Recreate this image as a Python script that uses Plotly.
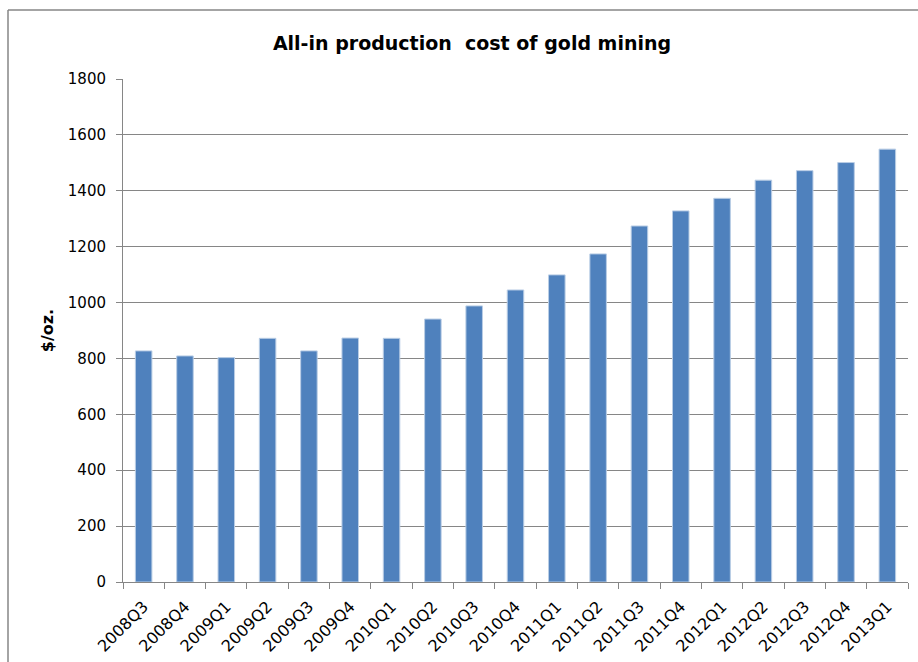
import plotly.graph_objects as go

quarters = ["2008Q3", "2008Q4", "2009Q1", "2009Q2", "2009Q3", "2009Q4", "2010Q1",
            "2010Q2", "2010Q3", "2010Q4", "2011Q1", "2011Q2", "2011Q3", "2011Q4",
            "2012Q1", "2012Q2", "2012Q3", "2012Q4", "2013Q1"]
cost = [827, 809, 803, 872, 827, 873, 872, 941, 988, 1045, 1099, 1174, 1274, 1328,
        1373, 1438, 1472, 1501, 1549]
y_ticks = [0, 200, 400, 600, 800, 1000, 1200, 1400, 1600, 1800]

W, H = 918, 662
L, R, T, B = 123, 10, 79, 80
pw, ph = W - L - R, H - T - B

fig = go.Figure(go.Bar(
    x=quarters, y=cost,
    marker=dict(color="#4F81BD", line=dict(color="#B9CDE5", width=1)),
))

font_fam = "DejaVu Sans, Verdana, sans-serif"

fig.update_layout(
    width=W, height=H,
    margin=dict(l=L, r=R, t=T, b=B, autoexpand=False),
    paper_bgcolor="white", plot_bgcolor="white",
    bargap=0.6,
    showlegend=False,
    title=dict(text="<b>All-in production  cost of gold mining</b>",
               x=(472 - L) / pw, xref="paper", xanchor="center",
               y=1 - 43 / H, yanchor="middle",
               font=dict(family=font_fam, size=19, color="black")),
    font=dict(family=font_fam, size=15, color="black"),
)

fig.update_xaxes(
    type="category", tickson="boundaries", automargin=False,
    tickangle=-45, ticks="outside", ticklen=6, tickcolor="#868686",
    showline=True, linecolor="#868686", linewidth=1, mirror=False,
    showgrid=False, ticklabelstandoff=8,
    tickfont=dict(family=font_fam, size=16, color="black"),
)
fig.update_yaxes(
    range=[0, 1800], tickvals=y_ticks, automargin=False,
    ticks="outside", ticklen=6, tickcolor="#868686",
    showline=True, linecolor="#868686", linewidth=1, mirror=False,
    showgrid=True, gridcolor="#868686", gridwidth=1,
    zeroline=False, ticklabelstandoff=7,
    tickfont=dict(family=font_fam, size=15, color="black"),
    title=dict(text="<b>$/oz.</b>", standoff=10,
               font=dict(family=font_fam, size=16, color="black")),
)

# outer chart border: only top and left edges are visible in the window
border = dict(color="#868686", width=1.5)
fig.add_shape(type="line", xref="paper", yref="paper",
              x0=(8 - L) / pw, x1=(W - L) / pw,
              y0=(H - B - 10) / ph, y1=(H - B - 10) / ph, line=border)
fig.add_shape(type="line", xref="paper", yref="paper",
              x0=(8 - L) / pw, x1=(8 - L) / pw,
              y0=(H - B - H) / ph, y1=(H - B - 10) / ph, line=border)

fig.write_html("out.html")
